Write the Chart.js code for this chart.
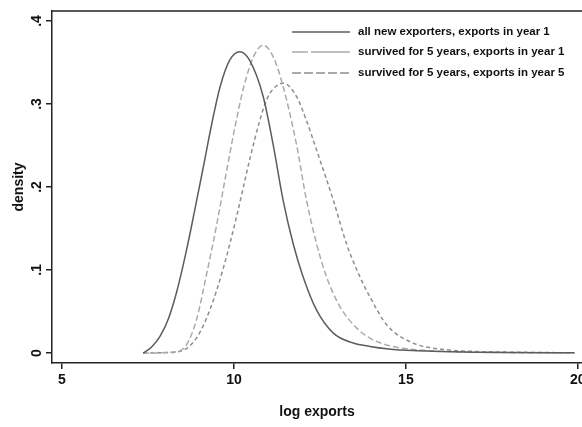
<!DOCTYPE html>
<html>
<head>
<meta charset="utf-8">
<script src="https://cdn.jsdelivr.net/npm/chart.js@4.4.1/dist/chart.umd.min.js"></script>
<style>
  html, body { margin: 0; padding: 0; background: #fff; }
  #wrap { width: 582px; height: 427px; }
</style>
</head>
<body>
<div id="wrap"><canvas id="chart" width="582" height="427"></canvas></div>
<script>
// density curves (x = log exports, y = density)
const allNewX = [7.36, 7.6, 7.85, 8.1, 8.35, 8.6, 8.85, 9.1, 9.35, 9.6, 9.88, 10.17, 10.45, 10.85, 11.14, 11.43, 11.72, 12.01, 12.4, 12.89, 13.47, 13.95, 14.5, 15.2, 16, 17, 18, 19.9];
const allNewY = [0, 0.007, 0.020, 0.042, 0.076, 0.120, 0.170, 0.222, 0.275, 0.321, 0.353, 0.363, 0.353, 0.309, 0.251, 0.184, 0.132, 0.092, 0.052, 0.024, 0.012, 0.008, 0.005, 0.003, 0.002, 0.001, 0.0005, 0.0002];

const surv1X = [7.36, 8.2, 8.62, 8.91, 9.2, 9.5, 9.79, 10.0, 10.27, 10.56, 10.85, 11.14, 11.43, 11.82, 12.11, 12.4, 12.69, 13.08, 13.57, 13.95, 14.5, 15.3, 16.5, 18, 19.9];
const surv1Y = [0, 0.001, 0.010, 0.040, 0.094, 0.155, 0.220, 0.266, 0.318, 0.356, 0.371, 0.357, 0.321, 0.251, 0.184, 0.132, 0.092, 0.056, 0.030, 0.018, 0.009, 0.004, 0.0015, 0.0005, 0.0002];

const surv5X = [7.36, 8.0, 8.43, 8.91, 9.3, 9.69, 10.08, 10.47, 10.75, 10.95, 11.14, 11.43, 11.82, 12.1, 12.4, 12.89, 13.27, 13.66, 13.95, 14.44, 15.21, 16.18, 17, 18.5, 19.9];
const surv5Y = [0, 0.0005, 0.002, 0.018, 0.052, 0.102, 0.165, 0.235, 0.280, 0.305, 0.318, 0.325, 0.309, 0.281, 0.245, 0.184, 0.132, 0.092, 0.068, 0.034, 0.012, 0.004, 0.002, 0.0008, 0.0003];

const seriesNames = ['all new exporters, exports in year 1', 'survived for 5 years, exports in year 1', 'survived for 5 years, exports in year 5'];
const xTicks = [5, 10, 15, 20];
const yTicks = [0, 0.1, 0.2, 0.3, 0.4];
const yTickLabels = ['0', '.1', '.2', '.3', '.4'];

function toPoints(xs, ys) {
  return xs.map((x, i) => ({ x: x, y: ys[i] }));
}

const FONT = '"Liberation Sans", Arial, sans-serif';
const colors = ['#5c5c5c', '#ababab', '#8f8f8f'];
const dashes = [[], [6, 3], [4, 3]];
const legendDashes = [[], [16, 3, 200, 0], [9, 3]];

const frameAndLegend = {
  id: 'frameAndLegend',
  afterDraw(chart) {
    const ctx = chart.ctx;
    const area = chart.chartArea;
    ctx.save();
    // top frame line
    ctx.strokeStyle = '#222';
    ctx.lineWidth = 1.5;
    ctx.beginPath();
    ctx.moveTo(area.left, area.top);
    ctx.lineTo(area.right, area.top);
    ctx.stroke();
    // legend
    const rowsY = [32, 52, 73];
    ctx.font = 'bold 11.5px ' + FONT;
    ctx.textBaseline = 'middle';
    ctx.fillStyle = '#111';
    seriesNames.forEach((name, i) => {
      ctx.strokeStyle = colors[i];
      ctx.lineWidth = 1.6;
      ctx.setLineDash(legendDashes[i]);
      ctx.beginPath();
      ctx.moveTo(292, rowsY[i]);
      ctx.lineTo(350, rowsY[i]);
      ctx.stroke();
      ctx.fillText(name, 358, rowsY[i]);
    });
    ctx.restore();
  }
};

new Chart(document.getElementById('chart'), {
  type: 'scatter',
  data: {
    datasets: [
      { label: seriesNames[0], data: toPoints(allNewX, allNewY) },
      { label: seriesNames[1], data: toPoints(surv1X, surv1Y) },
      { label: seriesNames[2], data: toPoints(surv5X, surv5Y) }
    ].map((d, i) => Object.assign(d, {
      showLine: true,
      pointRadius: 0,
      borderColor: colors[i],
      borderWidth: 1.5,
      borderDash: dashes[i],
      cubicInterpolationMode: 'monotone',
      fill: false
    }))
  },
  options: {
    responsive: false,
    animation: false,
    layout: { padding: { top: 11, right: 0, bottom: 0, left: 0 } },
    plugins: { legend: { display: false }, tooltip: { enabled: false } },
    scales: {
      x: {
        type: 'linear',
        min: 4.71,
        max: 20.12,
        afterBuildTicks: s => { s.ticks = xTicks.map(v => ({ value: v })); },
        afterFit: s => { s.height = 64; s.paddingLeft = 0; s.paddingRight = 0; },
        grid: { drawOnChartArea: false, drawTicks: true, tickLength: 6, color: '#222', lineWidth: 1.5 },
        border: { display: true, color: '#222', width: 1.5 },
        ticks: { color: '#111', maxRotation: 0, padding: 3, font: { size: 14, weight: 'bold', family: FONT } },
        title: { display: true, text: 'log exports', color: '#111', padding: { top: 10, bottom: 6 }, font: { size: 14, weight: 'bold', family: FONT } }
      },
      y: {
        type: 'linear',
        min: -0.012,
        max: 0.412,
        afterBuildTicks: s => { s.ticks = yTicks.map(v => ({ value: v })); },
        afterFit: s => { s.width = 52; s.paddingTop = 0; s.paddingBottom = 0; },
        grid: { drawOnChartArea: false, drawTicks: true, tickLength: 6, color: '#222', lineWidth: 1.5 },
        border: { display: true, color: '#222', width: 1.5 },
        ticks: {
          color: '#111', minRotation: 90, maxRotation: 90, crossAlign: 'center', padding: 3,
          font: { size: 14, weight: 'bold', family: FONT },
          callback: (v, i) => yTickLabels[yTicks.indexOf(Math.round(v * 10) / 10)]
        },
        title: { display: true, text: 'density', color: '#111', padding: { top: 11, bottom: 4 }, font: { size: 14, weight: 'bold', family: FONT } }
      }
    }
  },
  plugins: [frameAndLegend]
});
</script>
</body>
</html>
